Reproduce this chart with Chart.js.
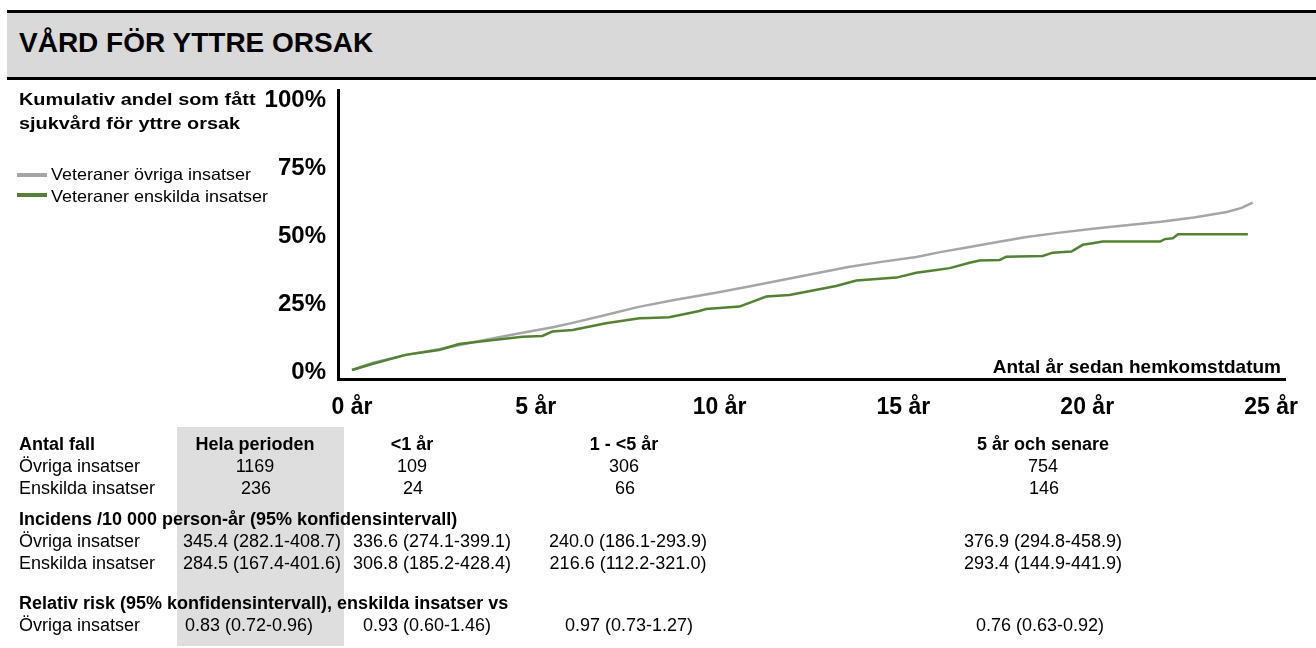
<!DOCTYPE html>
<html>
<head>
<meta charset="utf-8">
<script src="https://cdn.jsdelivr.net/npm/chart.js@4/dist/chart.umd.min.js"></script>
<style>
  html, body { margin: 0; padding: 0; background: #fff; }
  body { width: 1316px; height: 648px; position: relative; overflow: hidden;
         font-family: "Liberation Sans", Arial, Helvetica, sans-serif; color: #000; }
  #chart { position: absolute; left: 0; top: 0; z-index: 1; }
  .abs { position: absolute; white-space: nowrap; z-index: 3; }
  #titlebar { position: absolute; left: 7px; right: 0; top: 10px; height: 64px;
              background: #d9d9d9; border-top: 3px solid #000; border-bottom: 3px solid #000; z-index: 2; }
  #titlebar span { position: absolute; left: 12px; top: 14px; font-size: 28px; line-height: 32px;
                   font-weight: bold; white-space: nowrap; }
  #ylabel { left: 19px; top: 88px; font-size: 17px; line-height: 23.5px; font-weight: bold;
            transform: scaleX(1.17); transform-origin: 0 0; }
  .legtext { left: 51px; font-size: 16.5px; line-height: 20px; transform: scaleX(1.09); transform-origin: 0 0; }
  .swatch { position: absolute; left: 17px; width: 30px; height: 4px; z-index: 3; }
  #xtitle { right: 35px; top: 356px; font-size: 19px; line-height: 22px; font-weight: bold; }
  #shade { position: absolute; left: 177px; top: 427px; width: 167px; height: 219px; background: #dedede; z-index: 2; }
  .cell { font-size: 18px; line-height: 22px; }
  .b { font-weight: bold; }
</style>
</head>
<body>
<canvas id="chart" width="1316" height="648" style="width:1316px;height:648px;"></canvas>
<div id="titlebar"><span>VÅRD FÖR YTTRE ORSAK</span></div>
<div id="ylabel" class="abs">Kumulativ andel som fått<br>sjukvård för yttre orsak</div>
<div class="swatch" style="top:173px;background:#a6a6a6;"></div>
<div class="abs legtext" style="top:164px;">Veteraner övriga insatser</div>
<div class="swatch" style="top:193px;background:#548235;"></div>
<div class="abs legtext" style="top:186px;">Veteraner enskilda insatser</div>
<div id="xtitle" class="abs">Antal år sedan hemkomstdatum</div>
<div id="shade"></div>
<div id="table"></div>

<script>
// Cumulative share (%) by years since homecoming
const grayYears = [0, 0.55, 1.5, 2.4, 3.5, 4.6, 5.5, 6.0, 6.9, 7.8, 8.8, 9.9, 10.8, 11.7, 12.6,
                   13.5, 14.4, 15.35, 16.0, 16.8, 17.6, 18.35, 19.2, 20.15, 21.0, 22.0, 22.9, 23.8, 24.2, 24.5];
const grayPct   = [0.7, 3.3, 6.4, 8.5, 11.5, 14.4, 16.6, 18.1, 21.0, 24.0, 26.6, 29.2, 31.5, 33.9, 36.3,
                   38.7, 40.6, 42.4, 44.2, 46.1, 48.0, 49.8, 51.3, 52.8, 54.0, 55.4, 57.0, 59.0, 60.5, 62.5];

const greenYears = [0, 0.55, 1.46, 2.37, 2.91, 3.73, 4.64, 5.18, 5.45, 6.0, 6.91, 7.82, 8.09, 8.63,
                    9.45, 9.63, 10.54, 11.27, 11.9, 13.17, 13.72, 14.81, 15.35, 15.8, 16.26, 16.8,
                    17.07, 17.62, 17.8, 18.79, 19.06, 19.57, 19.88, 20.15, 20.42, 21.98, 22.11, 22.33,
                    22.47, 24.37];
const greenPct   = [0.7, 2.95, 6.3, 8.1, 10.3, 11.6, 13.0, 13.3, 14.9, 15.5, 18.0, 19.8, 19.9, 20.2,
                    22.5, 23.2, 24.1, 27.8, 28.4, 31.7, 33.7, 34.8, 36.6, 37.4, 38.3, 40.3,
                    41.1, 41.3, 42.5, 42.8, 44.0, 44.4, 46.9, 47.5, 48.1, 48.1, 49.0, 49.3,
                    50.8, 50.8];

const tickYears = [0, 5, 10, 15, 20, 25];
const tickPct = [0, 25, 50, 75, 100];

// Summary table
const colHeads = ['Hela perioden', '<1 år', '1 - <5 år', '5 år och senare'];
const casesOvriga = ['1169', '109', '306', '754'];
const casesEnskilda = ['236', '24', '66', '146'];
const incOvriga = ['345.4 (282.1-408.7)', '336.6 (274.1-399.1)', '240.0 (186.1-293.9)', '376.9 (294.8-458.9)'];
const incEnskilda = ['284.5 (167.4-401.6)', '306.8 (185.2-428.4)', '216.6 (112.2-321.0)', '293.4 (144.9-441.9)'];
const relRisk = ['0.83 (0.72-0.96)', '0.93 (0.60-1.46)', '0.97 (0.73-1.27)', '0.76 (0.63-0.92)'];

const caseCols = [255, 412, 624, 1043];
const incCols = [262, 432, 628, 1043];
const rrCols = [249, 427, 629, 1040];

function cell(text, x, yc, opts) {
  const d = document.createElement('div');
  d.className = 'abs cell' + (opts && opts.bold ? ' b' : '');
  d.textContent = text;
  d.style.top = (yc - 11) + 'px';
  d.style.left = x + 'px';
  if (opts && opts.center) d.style.transform = 'translateX(-50%)';
  document.getElementById('table').appendChild(d);
}

cell('Antal fall', 19, 444, { bold: true });
colHeads.forEach((t, i) => cell(t, caseCols[i], 444, { bold: true, center: true }));
cell('Övriga insatser', 19, 466);
casesOvriga.forEach((t, i) => cell(t, caseCols[i], 466, { center: true }));
cell('Enskilda insatser', 19, 488);
casesEnskilda.forEach((t, i) => cell(t, caseCols[i] + 1, 488, { center: true }));

cell('Incidens /10 000 person-år (95% konfidensintervall)', 19, 519, { bold: true });
cell('Övriga insatser', 19, 541);
incOvriga.forEach((t, i) => cell(t, incCols[i], 541, { center: true }));
cell('Enskilda insatser', 19, 563);
incEnskilda.forEach((t, i) => cell(t, incCols[i], 563, { center: true }));

cell('Relativ risk (95% konfidensintervall), enskilda insatser vs', 19, 603, { bold: true });
cell('Övriga insatser', 19, 625);
relRisk.forEach((t, i) => cell(t, rrCols[i], 625, { center: true }));

// Chart
const toPoints = (xs, ys) => xs.map((x, i) => ({ x: x, y: ys[i] }));
const tickFontX = { family: '"Liberation Sans", Arial, sans-serif', size: 23, weight: 'bold' };
const tickFontY = { family: '"Liberation Sans", Arial, sans-serif', size: 24, weight: 'bold' };

new Chart(document.getElementById('chart').getContext('2d'), {
  type: 'line',
  data: {
    datasets: [
      { label: 'Veteraner enskilda insatser', data: toPoints(greenYears, greenPct),
        borderColor: '#548235', borderWidth: 2.5, pointRadius: 0, tension: 0, fill: false },
      { label: 'Veteraner övriga insatser', data: toPoints(grayYears, grayPct),
        borderColor: '#a6a6a6', borderWidth: 2.5, pointRadius: 0, tension: 0, fill: false }
    ]
  },
  options: {
    responsive: false,
    animation: false,
    devicePixelRatio: 1,
    layout: { padding: { left: 0, top: 90, right: 31, bottom: 219 } },
    plugins: { legend: { display: false }, tooltip: { enabled: false } },
    scales: {
      x: {
        type: 'linear', min: -0.38, max: 25.38,
        grid: { display: false, drawTicks: false },
        border: { display: true, color: '#000', width: 3 },
        ticks: { color: '#000', font: tickFontX, padding: 15, maxRotation: 0, autoSkip: false,
                 callback: v => v + ' år' },
        afterBuildTicks: a => { a.ticks = tickYears.map(v => ({ value: v })); },
        afterFit: a => { a.height = 50; }
      },
      y: {
        type: 'linear', min: -2.6, max: 104,
        grid: { display: false, drawTicks: false },
        border: { display: true, color: '#000', width: 3 },
        ticks: { color: '#000', font: tickFontY, padding: 12, autoSkip: false,
                 callback: v => v + '%' },
        afterBuildTicks: a => { a.ticks = tickPct.map(v => ({ value: v })); },
        afterFit: a => { a.width = 338; }
      }
    }
  }
});
</script>
</body>
</html>
